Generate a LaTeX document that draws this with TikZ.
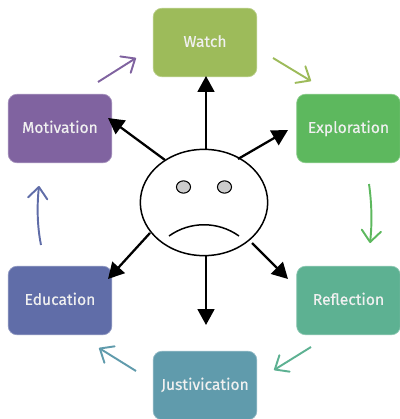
\documentclass[tikz,border=0pt]{standalone}
\usepackage{fontspec}
\setmainfont{Fira Sans}[FakeBold=0.4]
\usepackage{tikz}
\usetikzlibrary{arrows.meta,shapes.geometric}
\definecolor{watchcol}{HTML}{9DBB5A}
\definecolor{explorecol}{HTML}{5DB85E}
\definecolor{reflectcol}{HTML}{5DB192}
\definecolor{justcol}{HTML}{609BAC}
\definecolor{educol}{HTML}{606DA8}
\definecolor{motivcol}{HTML}{8063A0}
\tikzset{
  stage/.style={rectangle, rounded corners=5pt, minimum width=59pt, minimum height=39pt,
    inner sep=0pt, text=white!94!black, font=\fontsize{8.9pt}{10pt}\selectfont,
    text height=6pt, text depth=1pt, line width=0.4pt},
  facepart/.style={ellipse, draw, line width=0.85pt},
  blackarrow/.style={-{Triangle[length=9pt,width=9.5pt]}, line width=1.3pt},
  cyclearrow/.style={-{Straight Barb[length=6.5pt,width=11pt,round]}, line width=1.1pt},
}
\begin{document}
\begin{tikzpicture}[x=0.02cm, y=-0.02cm]
  \useasboundingbox (0,0) rectangle (399,419);

  % Stages
  \node (watch) at (205,42.5) [stage, fill=watchcol, draw=watchcol!70!white] {Watch};
  \node (explore) at (348.5,128.5) [stage, fill=explorecol, draw=explorecol!70!white] {Exploration};
  \node (reflect) at (348.5,300.5) [stage, fill=reflectcol, draw=reflectcol!70!white] {Reflection};
  \node (just) at (205,385.5) [stage, fill=justcol, draw=justcol!70!white] {Justivication};
  \node (edu) at (60,300.5) [stage, fill=educol, draw=educol!70!white] {Education};
  \node (motiv) at (60,128.5) [stage, fill=motivcol, draw=motivcol!70!white] {Motivation};

  % Face
  \node (face) at (204,202.5) [facepart, minimum width=72.5pt, minimum height=60.5pt, inner sep=0pt] {};
  \node (eyeL) at (183.5,187) [facepart, fill=black!20, line width=0.6pt, minimum width=8pt, minimum height=7pt, inner sep=0pt] {};
  \node (eyeR) at (224.5,187) [facepart, fill=black!20, line width=0.6pt, minimum width=8pt, minimum height=7pt, inner sep=0pt] {};
  \coordinate (mouthL) at (169,236);
  \coordinate (mouthR) at (239,236);
  \draw[line width=0.85pt] (mouthL) .. controls (190,221) and (218,221) .. (mouthR);

  % Black arrows
  \coordinate (tipW) at (206,76);
  \coordinate (tipE) at (288,130);
  \coordinate (tipR) at (288,279);
  \coordinate (tipJ) at (206,325);
  \coordinate (tipEd) at (108,279);
  \coordinate (tipM) at (108,118);
  \coordinate (fromW) at (206,149);
  \coordinate (fromE) at (238,159);
  \coordinate (fromR) at (252,243);
  \coordinate (fromJ) at (206,256);
  \coordinate (fromEd) at (150,233);
  \coordinate (fromM) at (165,160);
  \draw[blackarrow] (fromW) -- (tipW);
  \draw[blackarrow] (fromE) -- (tipE);
  \draw[blackarrow] (fromR) -- (tipR);
  \draw[blackarrow] (fromJ) -- (tipJ);
  \draw[blackarrow] (fromEd) -- (tipEd);
  \draw[blackarrow] (fromM) -- (tipM);

  % Cycle arrows
  \coordinate (a1) at (273,58);   \coordinate (b1) at (311,81);
  \coordinate (a2) at (369,184);  \coordinate (b2) at (370,243);
  \coordinate (a3) at (311,347);  \coordinate (b3) at (274,370);
  \coordinate (a4) at (136,371);  \coordinate (b4) at (99,348);
  \coordinate (a5) at (41,245);   \coordinate (b5) at (39,186);
  \coordinate (a6) at (98,82);    \coordinate (b6) at (136,58);
  \draw[cyclearrow, watchcol] (a1) -- (b1);
  \draw[cyclearrow, explorecol] (a2) .. controls (372,205) and (372,225) .. (b2);
  \draw[cyclearrow, reflectcol] (a3) -- (b3);
  \draw[cyclearrow, justcol] (a4) -- (b4);
  \draw[cyclearrow, educol] (a5) .. controls (37,225) and (37,205) .. (b5);
  \draw[cyclearrow, motivcol] (a6) -- (b6);
\end{tikzpicture}
\end{document}
